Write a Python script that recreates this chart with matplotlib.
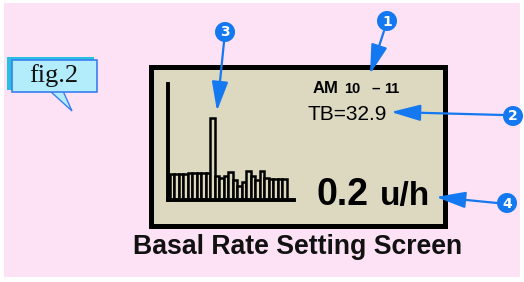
import matplotlib
matplotlib.use('Agg')
import matplotlib.pyplot as plt
from matplotlib import patches

# bar heights (pixel-ish units, axis top = 116)
bar_heights = [26, 26, 26, 26, 27, 27, 27, 27, 27, 82,
               24, 22, 24, 28, 20, 14, 18, 29, 24, 20, 29, 22, 21, 21, 21, 21]
callout_numbers = ['1', '2', '3', '4']
callout_circles = [(387, 21), (513, 116), (225, 32), (507, 203)]
callout_tails = [(384, 31), (503, 115), (224, 42), (497, 203)]
callout_heads = [(370, 74), (391, 112), (217, 111), (436, 197)]

pink = '#fde2f5'
beige = '#dcd9c0'
blue = '#1478f0'

fig = plt.figure(figsize=(5.24, 2.82), dpi=100, facecolor='white')

# overlay axes in pixel coordinates
ax = fig.add_axes([0, 0, 1, 1])
ax.set_xlim(0, 524)
ax.set_ylim(282, 0)
ax.axis('off')

ax.add_patch(patches.Rectangle((4, 3), 516, 274, facecolor=pink, edgecolor='none'))

# device screen
ax.add_patch(patches.Rectangle((150.5, 66.5), 294, 159, facecolor=beige, edgecolor='black', lw=3.6))

# fig.2 label
ax.add_patch(patches.Rectangle((7, 57), 87, 33, facecolor='#28c0e0', edgecolor='none'))
ax.add_patch(patches.Polygon([(50, 91), (72, 111), (63, 91)], closed=True,
                             facecolor='#b3ecfb', edgecolor='#3a7ff0', lw=1))
ax.add_patch(patches.Rectangle((12, 60), 85, 32, facecolor='#b3ecfb', edgecolor='#3a7ff0', lw=1.2))
ax.text(54, 76, 'fig.2', fontsize=19, family=['Liberation Serif', 'DejaVu Serif'],
        ha='center', va='center', color='#111111')

# screen texts
ax.text(313, 93, 'AM', fontsize=12, fontweight='bold', family='Liberation Sans', va='baseline')
ax.text(344, 93, '10', fontsize=10.5, fontweight='bold', family='Liberation Sans', va='baseline')
ax.text(371, 93, '\u2013', fontsize=11, fontweight='bold', family='Liberation Sans', va='baseline')
ax.text(384, 93, '11', fontsize=10.5, fontweight='bold', family='Liberation Sans', va='baseline')
ax.text(308, 120, 'TB=32.9', fontsize=15, family=['Liberation Sans Narrow', 'Liberation Sans'],
        va='baseline', color='black')
ax.text(317, 205, '0.2', fontsize=27, fontweight='bold', family='Liberation Sans', va='baseline')
ax.text(380, 205, 'u/h', fontsize=24, fontweight='bold', family='Liberation Sans', va='baseline')

ax.text(298, 247, 'Basal Rate Setting Screen', fontsize=19.2, fontweight='bold',
        family='Liberation Sans', ha='center', va='center', color='#111111')

# callouts
for num, c, t, h in zip(callout_numbers, callout_circles, callout_tails, callout_heads):
    ax.annotate('', xy=h, xytext=t,
                arrowprops=dict(arrowstyle='-|>,head_length=1.8,head_width=0.5',
                                mutation_scale=10, color=blue, lw=1.6, shrinkA=0, shrinkB=0))
    ax.add_patch(patches.Circle(c, 10, facecolor=blue, edgecolor='none', zorder=5))
    ax.text(c[0], c[1] + 0.5, num, color='white', fontsize=10, fontweight='bold',
            ha='center', va='center', zorder=6)

# histogram on the screen
bx = fig.add_axes([168 / 524, (282 - 200) / 282, 126 / 524, 116 / 282])
bx.patch.set_alpha(0)
bx.bar(range(len(bar_heights)), bar_heights, width=1.0, align='edge',
       facecolor=beige, edgecolor='black', lw=1.8)
bx.set_xlim(-0.35, 27.65)
bx.set_ylim(0, 116)
for s in ['top', 'right']:
    bx.spines[s].set_visible(False)
for s in ['left', 'bottom']:
    bx.spines[s].set_linewidth(2.8)
bx.set_xticks([])
bx.set_yticks([])

fig.savefig('out.png', dpi=100, facecolor='white')
